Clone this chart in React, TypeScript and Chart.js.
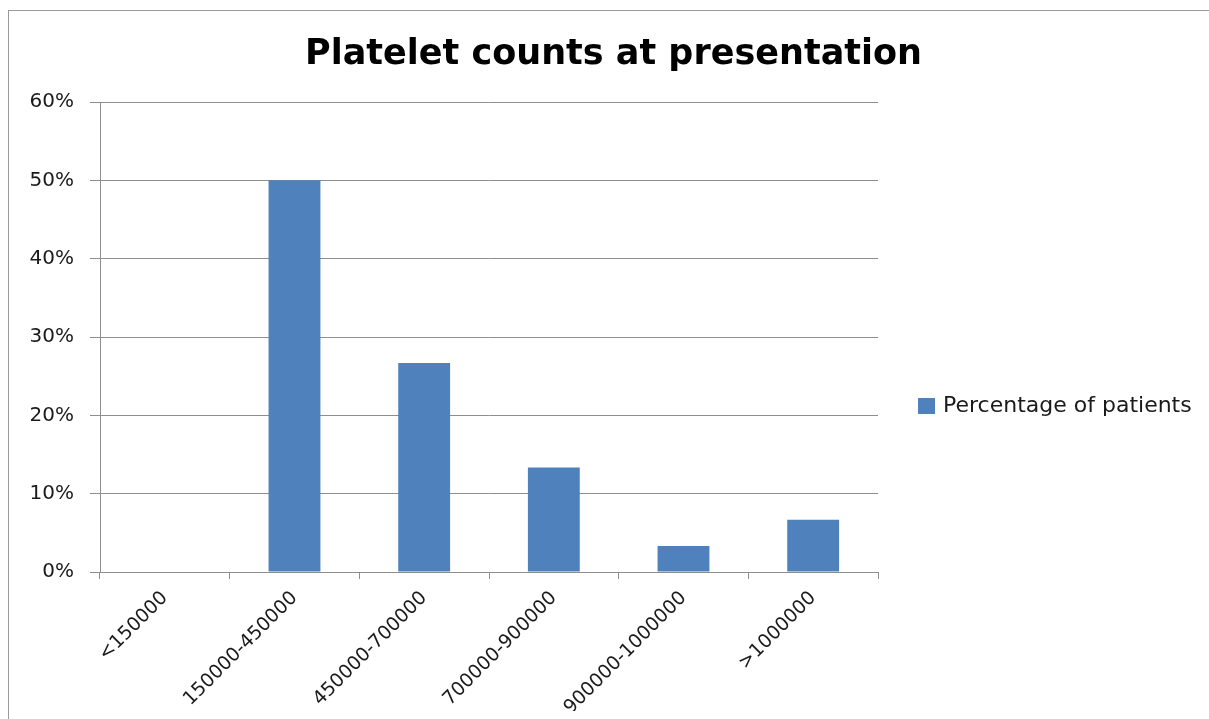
import React, { useEffect, useRef } from "react";
import { Chart, registerables } from "chart.js";

Chart.register(...registerables);

const titleText = "Platelet counts at presentation";
const categories = [
  "<150000",
  "150000-450000",
  "450000-700000",
  "700000-900000",
  "900000-1000000",
  ">1000000",
];
const seriesLabel = "Percentage of patients";
const percentages = [0, 50, 26.67, 13.33, 3.33, 6.67];
const yTicks = [0, 10, 20, 30, 40, 50, 60];

const FONT = "'DejaVu Sans', Verdana, sans-serif";
const BAR = "#4f81bd";
const GRID = "#8e8e8e";
const TEXT = "#1a1a1a";

const sideLegend = {
  id: "sideLegend",
  afterDraw(chart: any) {
    const ctx = chart.ctx;
    const ds = chart.data.datasets[0];
    const x0 = chart.chartArea.right + 40;
    const yMid = 398;
    ctx.save();
    ctx.fillStyle = ds.backgroundColor;
    ctx.fillRect(x0, yMid - 8, 17, 16);
    ctx.fillStyle = TEXT;
    ctx.font = `22px ${FONT}`;
    ctx.textBaseline = "middle";
    ctx.textAlign = "left";
    ctx.fillText(ds.label, x0 + 25, yMid);
    ctx.restore();
  },
};

export default function App() {
  const ref = useRef<HTMLCanvasElement | null>(null);

  useEffect(() => {
    if (!ref.current) return;
    const chart = new Chart(ref.current, {
      type: "bar",
      data: {
        labels: categories,
        datasets: [
          {
            label: seriesLabel,
            data: percentages,
            backgroundColor: BAR,
            borderWidth: 0,
            barPercentage: 0.4,
            categoryPercentage: 1,
          },
        ],
      },
      options: {
        animation: false,
        responsive: false,
        maintainAspectRatio: false,
        layout: { padding: { left: 10, right: 0, top: 0, bottom: 0 } },
        plugins: {
          legend: { display: false },
          tooltip: { enabled: false },
          title: {
            display: true,
            text: titleText,
            color: "#000",
            font: { family: FONT, size: 35, weight: "bold", lineHeight: 1.2 },
            padding: { top: 26, bottom: 26 },
          },
        },
        scales: {
          x: {
            grid: {
              drawOnChartArea: false,
              offset: true,
              tickLength: 7,
              color: GRID,
            },
            border: { color: GRID },
            ticks: {
              autoSkip: false,
              minRotation: 45,
              maxRotation: 45,
              color: TEXT,
              font: { family: FONT, size: 19 },
              padding: 8,
            },
            afterFit: (s: any) => {
              s.height = 139;
            },
          },
          y: {
            min: 0,
            max: 60,
            afterBuildTicks: (s: any) => {
              s.ticks = yTicks.map((v) => ({ value: v }));
            },
            ticks: {
              callback: (v: any) => `${v}%`,
              color: TEXT,
              font: { family: FONT, size: 20 },
              padding: 16,
            },
            grid: { color: GRID, tickLength: 10 },
            border: { color: GRID },
            afterFit: (s: any) => {
              s.width = 82;
            },
          },
          rightSpace: {
            type: "linear",
            position: "right",
            display: true,
            grid: { display: false, drawTicks: false },
            border: { display: false },
            ticks: { display: false },
            afterFit: (s: any) => {
              s.width = 331;
            },
          },
        },
      },
      plugins: [sideLegend],
    });
    return () => chart.destroy();
  }, []);

  return (
    <div style={{ position: "relative", width: 1201, height: 703 }}>
      <div
        style={{
          position: "fixed",
          left: 8,
          top: 10,
          width: 1400,
          height: 900,
          borderTop: "1px solid #9a9a9a",
          borderLeft: "1px solid #9a9a9a",
          boxSizing: "border-box",
          pointerEvents: "none",
        }}
      />
      <canvas
        ref={ref}
        width={1201}
        height={703}
        style={{ position: "absolute", left: 0, top: 0, width: 1201, height: 703 }}
      />
    </div>
  );
}
